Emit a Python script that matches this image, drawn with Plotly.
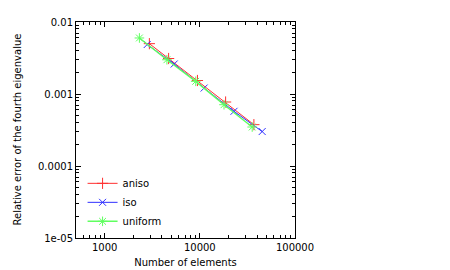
import plotly.graph_objects as go
import math

aniso_x = [2950, 4700, 9440, 18660, 37000]
aniso_y = [0.00500, 0.00311, 0.00154, 0.000774, 0.000375]
iso_x = [2800, 5380, 11100, 22860, 45200]
iso_y = [0.00487, 0.00261, 0.00121, 0.000575, 0.000301]
uniform_x = [2318, 4510, 9060, 17950, 35500]
uniform_y = [0.00600, 0.00299, 0.00150, 0.000710, 0.000348]

x_ticks = [1000, 10000, 100000]
x_ticktext = ["1000", "10000", "100000"]
y_ticks = [1e-5, 1e-4, 1e-3, 1e-2]
y_ticktext = ["1e-05", "0.0001", "0.001", "0.01"]
y_title = "Relative error of the fourth eigenvalue"

font = "DejaVu Sans"
fs = 10
W, H = 450, 270
ML, MR, MT, MB = 68, 163, 14, 40
fig = go.Figure()
fig.add_trace(go.Scatter(x=aniso_x, y=aniso_y, name="aniso", mode="lines+markers",
                         line=dict(color="#ff3030", width=1),
                         marker=dict(symbol="cross-thin-open", size=8, line=dict(color="#ff3030", width=1))))
fig.add_trace(go.Scatter(x=iso_x, y=iso_y, name="iso", mode="lines+markers",
                         line=dict(color="#3030ff", width=1),
                         marker=dict(symbol="x-thin-open", size=7, line=dict(color="#3030ff", width=1))))
fig.add_trace(go.Scatter(x=uniform_x, y=uniform_y, name="uniform", mode="lines+markers",
                         line=dict(color="#60ff60", width=1.5),
                         marker=dict(symbol="asterisk-open", size=8, line=dict(color="#30e030", width=1))))

axis_common = dict(type="log", showgrid=False, zeroline=False, showline=True, linecolor="black",
                   linewidth=1, mirror="allticks", ticks="inside", ticklen=5, tickcolor="black",
                   tickfont=dict(family=font, size=fs, color="black"), automargin=False,
                   minor=dict(ticks="inside", ticklen=3, tickcolor="black", dtick="D1", showgrid=False))

fig.update_xaxes(**axis_common, range=[math.log10(500), 5], tickvals=x_ticks, ticktext=x_ticktext,
                 title=dict(text="Number of elements", font=dict(family=font, size=fs, color="black"), standoff=6))
fig.update_yaxes(**axis_common, range=[-5, -2], tickvals=y_ticks, ticktext=y_ticktext)

plot_w = W - ML - MR
fig.add_annotation(text=y_title, textangle=-90, xref="paper", yref="paper",
                   x=(1 - ML) / plot_w, y=0.5, xanchor="left", yanchor="middle", showarrow=False,
                   font=dict(family=font, size=fs, color="black"))

fig.update_layout(width=W, height=H, margin=dict(l=ML, r=MR, t=MT, b=MB),
                  paper_bgcolor="white", plot_bgcolor="white",
                  font=dict(family=font, size=fs, color="black"),
                  showlegend=True,
                  legend=dict(x=0.03, y=0.01, xanchor="left", yanchor="bottom", bgcolor="rgba(0,0,0,0)",
                              font=dict(family=font, size=fs, color="black"), tracegroupgap=0,
                              itemwidth=30))
fig.write_html("out.html")
